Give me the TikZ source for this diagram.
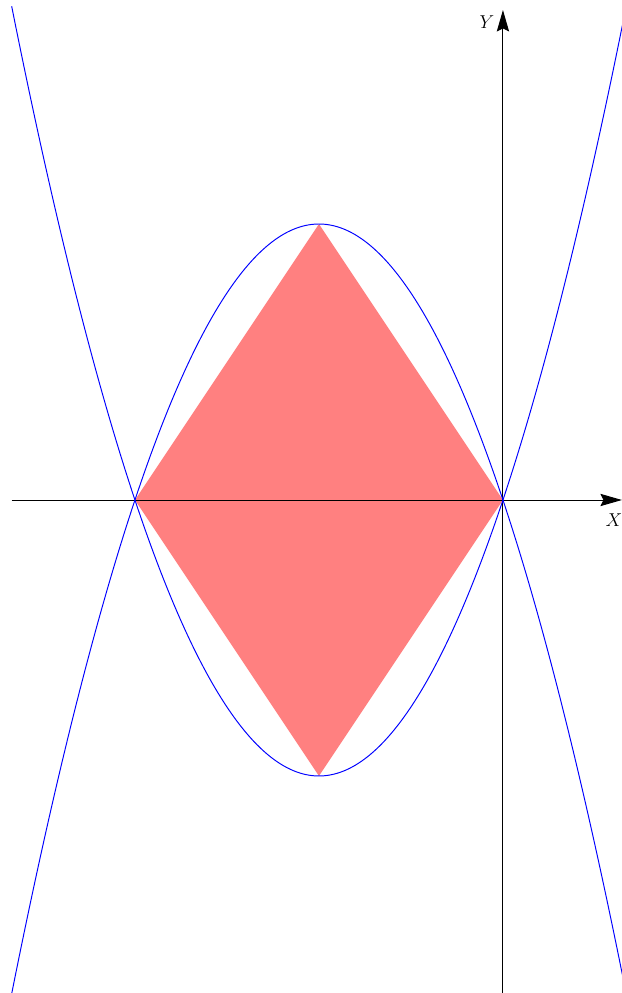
\documentclass[tikz,border=0pt]{standalone}
\usetikzlibrary{arrows.meta}
\begin{document}
\begin{tikzpicture}[x=3cm,y=3cm,
  curve/.style={blue, line width=0.9pt},
  axis/.style={black, line width=0.9pt, -{Stealth[length=7mm,width=4mm,inset=1mm]}},
  lbl/.style={inner sep=0pt, font=\fontsize{16}{18}\selectfont}]
\useasboundingbox (-5.467,-5.359) rectangle (1.293,5.435);
\clip (-5.467,-5.359) rectangle (1.293,5.435);
\coordinate (L) at (-4,0);
\coordinate (T) at (-2,3);
\coordinate (O) at (0,0);
\coordinate (B) at (-2,-3);
\fill[red!50] (L) -- (T) -- (O) -- (B) -- cycle;
\coordinate (xs) at (-5.34,0);
\coordinate (xe) at (1.293,0);
\coordinate (ys) at (0,-5.40);
\coordinate (ye) at (0,5.326);
\draw[axis] (xs) -- (xe);
\draw[axis] (ys) -- (ye);
\draw[curve] plot[domain=-5.34:1.36, samples=200, smooth] (\x, {0.75*\x*(\x+4)});
\draw[curve] plot[domain=-5.34:1.36, samples=200, smooth] (\x, {-0.75*\x*(\x+4)});
\node[lbl] (ylab) at (-0.174,5.196) {$Y$};
\node[lbl] (xlab) at (1.207,-0.217) {$X$};
\end{tikzpicture}
\end{document}
